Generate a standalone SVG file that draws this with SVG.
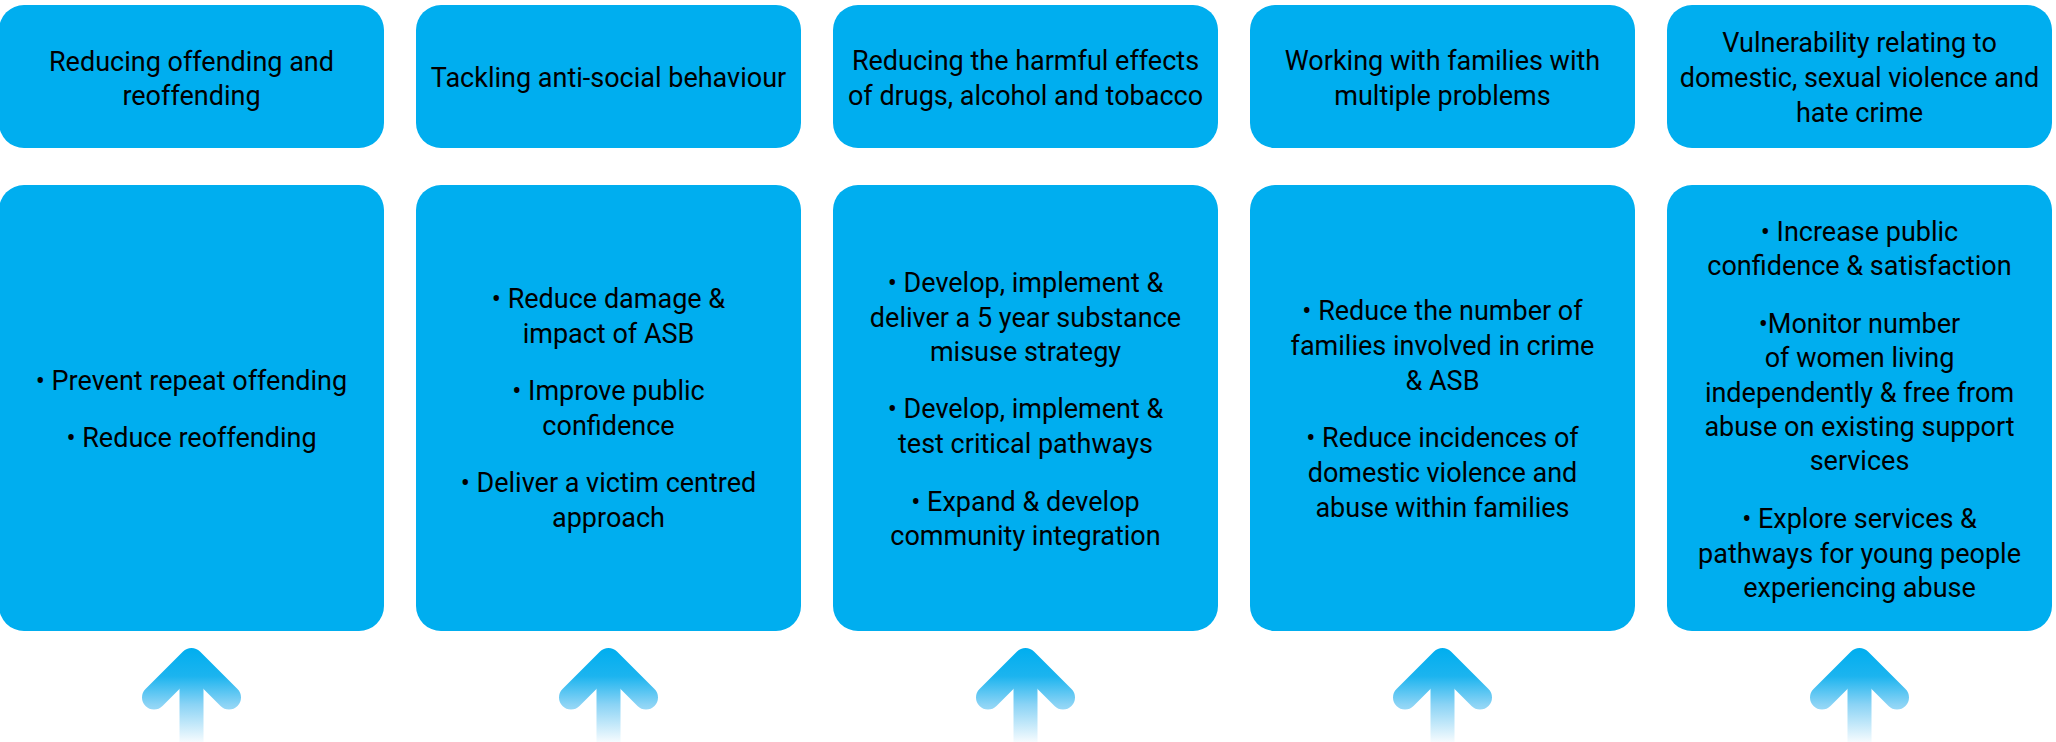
<svg xmlns="http://www.w3.org/2000/svg" width="2056" height="742" viewBox="0 0 2056 742">
<style>
.box{fill:#00AEEF}
.t{font-family:Roboto,"Noto Sans","Liberation Sans",sans-serif;font-size:27px;fill:#000;text-anchor:middle}
.arr{fill:none;stroke-width:24;stroke-linecap:round;stroke-linejoin:round}
</style>
<defs>
<linearGradient id="ag" gradientUnits="userSpaceOnUse" x1="0" y1="648" x2="0" y2="742">
<stop offset="0" stop-color="#00AEEF"/>
<stop offset="0.3" stop-color="#1CB4EF"/>
<stop offset="0.6" stop-color="#8AD3F5"/>
<stop offset="1" stop-color="#F5FBFE"/>
</linearGradient>
<g id="arrow">
<path class="arr" stroke="url(#ag)" d="M-37.5,697.5 L0,660 L37.5,697.5"/>
<path class="arr" stroke="url(#ag)" stroke-linecap="butt" d="M0,665 L0,745"/>
</g>
</defs>

<g id="h1"><rect class="box" x="-1" y="5" width="385" height="143" rx="25"/>
<text class="t" x="191.5" y="71">Reducing offending and</text><text class="t" x="191.5" y="105">reoffending</text></g>
<g id="h2"><rect class="box" x="416" y="5" width="385" height="143" rx="25"/>
<text class="t" x="608.5" y="87">Tackling anti-social behaviour</text></g>
<g id="h3"><rect class="box" x="833" y="5" width="385" height="143" rx="25"/>
<text class="t" x="1025.5" y="70">Reducing the harmful effects</text><text class="t" x="1025.5" y="105">of drugs, alcohol and tobacco</text></g>
<g id="h4"><rect class="box" x="1250" y="5" width="385" height="143" rx="25"/>
<text class="t" x="1442.5" y="70">Working with families with</text><text class="t" x="1442.5" y="105">multiple problems</text></g>
<g id="h5"><rect class="box" x="1667" y="5" width="385" height="143" rx="25"/>
<text class="t" x="1859.5" y="52">Vulnerability relating to</text><text class="t" x="1859.5" y="87">domestic, sexual violence and</text><text class="t" x="1859.5" y="122">hate crime</text></g>

<g id="b1"><rect class="box" x="-1" y="185" width="385" height="446" rx="25"/>
<text class="t" x="191.5" y="390">• Prevent repeat offending</text>
<text class="t" x="191.5" y="447">• Reduce reoffending</text></g>
<g id="b2"><rect class="box" x="416" y="185" width="385" height="446" rx="25"/>
<text class="t" x="608.5" y="308">• Reduce damage &amp;</text><text class="t" x="608.5" y="343">impact of ASB</text>
<text class="t" x="608.5" y="400">• Improve public</text><text class="t" x="608.5" y="435">confidence</text>
<text class="t" x="608.5" y="492">• Deliver a victim centred</text><text class="t" x="608.5" y="527">approach</text></g>
<g id="b3"><rect class="box" x="833" y="185" width="385" height="446" rx="25"/>
<text class="t" x="1025.5" y="292">• Develop, implement &amp;</text><text class="t" x="1025.5" y="327">deliver a 5 year substance</text><text class="t" x="1025.5" y="361">misuse strategy</text>
<text class="t" x="1025.5" y="418">• Develop, implement &amp;</text><text class="t" x="1025.5" y="453">test critical pathways</text>
<text class="t" x="1025.5" y="511">• Expand &amp; develop</text><text class="t" x="1025.5" y="545">community integration</text></g>
<g id="b4"><rect class="box" x="1250" y="185" width="385" height="446" rx="25"/>
<text class="t" x="1442.5" y="320">• Reduce the number of</text><text class="t" x="1442.5" y="355">families involved in crime</text><text class="t" x="1442.5" y="390">&amp; ASB</text>
<text class="t" x="1442.5" y="447">• Reduce incidences of</text><text class="t" x="1442.5" y="482">domestic violence and</text><text class="t" x="1442.5" y="517">abuse within families</text></g>
<g id="b5"><rect class="box" x="1667" y="185" width="385" height="446" rx="25"/>
<text class="t" x="1859.5" y="241">• Increase public</text><text class="t" x="1859.5" y="275">confidence &amp; satisfaction</text>
<text class="t" x="1859.5" y="333">•Monitor number</text><text class="t" x="1859.5" y="367">of women living</text><text class="t" x="1859.5" y="402">independently &amp; free from</text><text class="t" x="1859.5" y="436">abuse on existing support</text><text class="t" x="1859.5" y="470">services</text>
<text class="t" x="1859.5" y="528">• Explore services &amp;</text><text class="t" x="1859.5" y="563">pathways for young people</text><text class="t" x="1859.5" y="597">experiencing abuse</text></g>

<g id="connectors">
<use href="#arrow" x="191.5"/>
<use href="#arrow" x="608.5"/>
<use href="#arrow" x="1025.5"/>
<use href="#arrow" x="1442.5"/>
<use href="#arrow" x="1859.5"/>
</g>
</svg>
